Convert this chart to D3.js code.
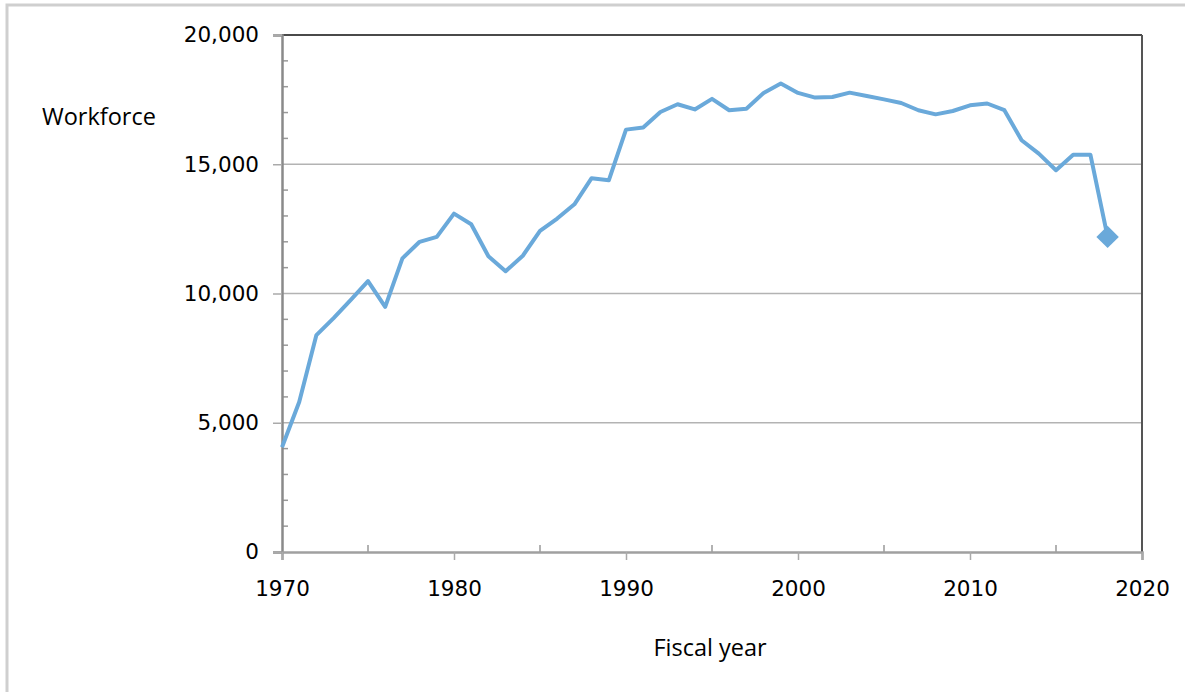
<!DOCTYPE html>
<html>
<head>
<meta charset="utf-8">
<script src="https://cdn.jsdelivr.net/npm/d3@7"></script>
<style>
  body { margin: 0; background: #fff; }
</style>
</head>
<body>
<div id="chart"></div>
<script>
// workforce by fiscal year
const years = [1970, 1971, 1972, 1973, 1974, 1975, 1976, 1977, 1978, 1979,
  1980, 1981, 1982, 1983, 1984, 1985, 1986, 1987, 1988, 1989,
  1990, 1991, 1992, 1993, 1994, 1995, 1996, 1997, 1998, 1999,
  2000, 2001, 2002, 2003, 2004, 2005, 2006, 2007, 2008, 2009,
  2010, 2011, 2012, 2013, 2014, 2015, 2016, 2017, 2018];
const workforce = [4050, 5800, 8390, 9050, 9750, 10480, 9480, 11360, 12000, 12190,
  13090, 12680, 11440, 10860, 11460, 12420, 12900, 13450, 14460, 14380,
  16340, 16420, 17020, 17320, 17120, 17530, 17090, 17150, 17760, 18120,
  17760, 17580, 17600, 17770, 17640, 17510, 17370, 17090, 16930, 17060,
  17280, 17350, 17090, 15930, 15410, 14770, 15370, 15370, 12190];
const lastYear = 2018;
const lastValue = 12190;

const yTicks = [0, 5000, 10000, 15000, 20000];
const xTicks = [1970, 1980, 1990, 2000, 2010, 2020];

const width = 1185, height = 692;
const svg = d3.select("#chart").append("svg")
  .attr("width", width)
  .attr("height", height);

// outer frame (only top and left edges show)
svg.append("path")
  .attr("d", "M7,692 L7,5 L1185,5")
  .attr("fill", "none")
  .attr("stroke", "#cfcfcf")
  .attr("stroke-width", 3);

const x = d3.scaleLinear().domain([1970, 2020]).range([282, 1142]);
const y = d3.scaleLinear().domain([0, 20000]).range([552, 35]);

// gridlines
svg.append("g")
  .selectAll("line")
  .data([5000, 10000, 15000])
  .enter()
  .append("line")
  .attr("x1", x(1970))
  .attr("x2", x(2020))
  .attr("y1", (d) => y(d))
  .attr("y2", (d) => y(d))
  .attr("stroke", "#b3b3b3")
  .attr("stroke-width", 1.5);

// top and right borders
svg.append("line")
  .attr("x1", x(1970)).attr("x2", x(2020))
  .attr("y1", y(20000)).attr("y2", y(20000))
  .attr("stroke", "#4a4a4a").attr("stroke-width", 2);
svg.append("line")
  .attr("x1", x(2020)).attr("x2", x(2020))
  .attr("y1", y(20000)).attr("y2", y(0))
  .attr("stroke", "#555").attr("stroke-width", 2);

// y minor ticks (inside)
svg.append("g")
  .selectAll("line")
  .data(d3.range(1000, 20000, 1000).filter((d) => d % 5000 !== 0))
  .enter()
  .append("line")
  .attr("x1", x(1970)).attr("x2", x(1970) + 6)
  .attr("y1", (d) => y(d)).attr("y2", (d) => y(d))
  .attr("stroke", "#999").attr("stroke-width", 1.5);

// x minor ticks (inside)
svg.append("g")
  .selectAll("line")
  .data([1975, 1985, 1995, 2005, 2015])
  .enter()
  .append("line")
  .attr("x1", (d) => x(d)).attr("x2", (d) => x(d))
  .attr("y1", y(0)).attr("y2", y(0) - 7)
  .attr("stroke", "#999").attr("stroke-width", 1.5);

// y axis
const yAxis = d3.axisLeft(y)
  .tickValues(yTicks)
  .tickSize(9)
  .tickPadding(14)
  .tickFormat(d3.format(","));
const gy = svg.append("g")
  .attr("transform", `translate(${x(1970)},0)`)
  .call(yAxis);
gy.select(".domain").attr("stroke", "#8a8a8a").attr("stroke-width", 2.5);
gy.selectAll(".tick line").attr("stroke", "#aaa").attr("stroke-width", 1.5);
gy.selectAll(".tick text")
  .attr("font-family", "DejaVu Sans")
  .attr("font-size", 21.5)
  .attr("fill", "#000");

// x axis
const xAxis = d3.axisBottom(x)
  .tickValues(xTicks)
  .tickSize(8)
  .tickPadding(21)
  .tickFormat(d3.format("d"));
const gx = svg.append("g")
  .attr("transform", `translate(0,${y(0)})`)
  .call(xAxis);
gx.select(".domain").attr("stroke", "#a0a0a0").attr("stroke-width", 2.5);
gx.selectAll(".tick line").attr("stroke", "#aaa").attr("stroke-width", 1.5);
gx.selectAll(".tick text")
  .attr("font-family", "DejaVu Sans")
  .attr("font-size", 21.5)
  .attr("fill", "#000");

// line
const line = d3.line()
  .x((d, i) => x(years[i]))
  .y((d) => y(d));

svg.append("path")
  .datum(workforce)
  .attr("d", line)
  .attr("fill", "none")
  .attr("stroke", "#6aa9da")
  .attr("stroke-width", 4)
  .attr("stroke-linejoin", "round");

// diamond marker on last point
svg.append("path")
  .attr("d", d3.symbol().type(d3.symbolDiamond2).size(320))
  .attr("transform", `translate(${x(lastYear)},${y(lastValue)})`)
  .attr("fill", "#6aa9da");

// axis titles
svg.append("text")
  .attr("x", 42)
  .attr("y", 125)
  .attr("font-family", "Open Sans")
  .attr("font-size", 23.5)
  .attr("fill", "#000")
  .text("Workforce");

svg.append("text")
  .attr("x", 710)
  .attr("y", 656)
  .attr("text-anchor", "middle")
  .attr("font-family", "Open Sans")
  .attr("font-size", 23.5)
  .attr("fill", "#000")
  .text("Fiscal year");
</script>
</body>
</html>
